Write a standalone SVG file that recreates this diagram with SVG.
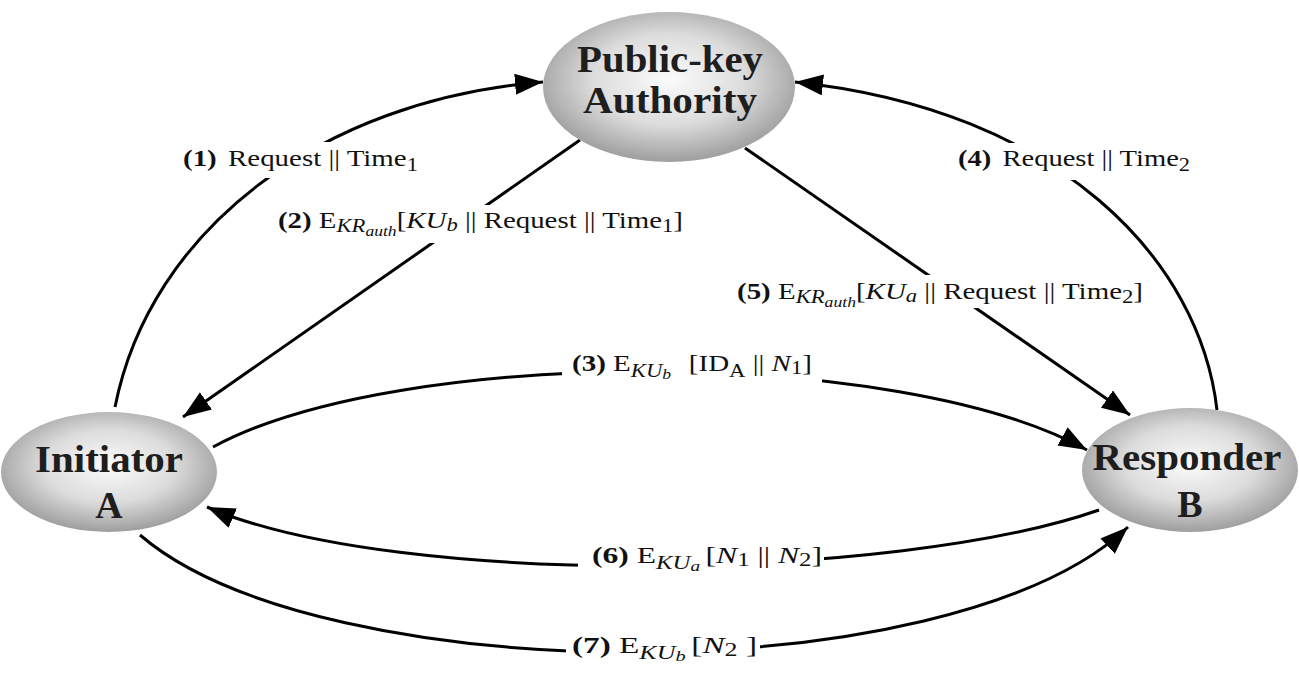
<svg xmlns="http://www.w3.org/2000/svg" width="1299" height="682" viewBox="0 0 1299 682">
<defs>
<style>
.node-text{font-family:"Liberation Serif","Times New Roman",serif;font-weight:bold;font-size:38px;fill:#1e1e1e;}
.lbl{font-family:"Liberation Serif","Times New Roman",serif;font-size:23px;fill:#111;}
.b{font-weight:bold;}
.i{font-style:italic;}
.s{font-size:18px;}
.ss{font-size:14px;}
.conn{fill:none;stroke:#000;stroke-width:3;marker-end:url(#arr);}
</style>
<radialGradient id="g" cx="50%" cy="45%" r="55%">
<stop offset="0" stop-color="#fbfbfb"/>
<stop offset="0.55" stop-color="#dcdcdc"/>
<stop offset="1" stop-color="#9e9e9e"/>
</radialGradient>
<marker id="arr" markerUnits="userSpaceOnUse" markerWidth="32" markerHeight="22" refX="28" refY="10.5" orient="auto">
<path d="M0,0 L28,10.5 L0,21 z" fill="#000"/>
</marker>
<mask id="gaps" maskUnits="userSpaceOnUse" x="0" y="0" width="1299" height="682">
<rect x="0" y="0" width="1299" height="682" fill="#fff"/>
<rect x="175" y="142" width="250" height="36" fill="#000"/>
<rect x="272" y="205" width="418" height="38" fill="#000"/>
<rect x="950" y="143" width="246" height="37" fill="#000"/>
<rect x="730" y="275" width="420" height="33" fill="#000"/>
<rect x="562" y="355" width="260" height="37" fill="#000"/>
<rect x="578" y="545" width="246" height="35" fill="#000"/>
<rect x="566" y="638" width="194" height="34" fill="#000"/>
</mask>
</defs>
<rect width="1299" height="682" fill="#fff"/>

<g id="connectors" mask="url(#gaps)">
<path id="c1" class="conn" d="M115,407 C150,230 320,100 543,82"/>
<path id="c2" class="conn" d="M580,140 L183,417"/>
<path id="c3" class="conn" d="M213,447 C400,346 900,346 1087,450"/>
<path id="c4" class="conn" d="M1217,410 C1200,260 1060,110 795,82"/>
<path id="c5" class="conn" d="M745,148 L1130,415"/>
<path id="c6" class="conn" d="M1099,510 C900,580 400,590 207,507"/>
<path id="c7" class="conn" d="M140,535 C320,690 950,695 1128,527"/>
</g>

<g id="labels">
<text class="lbl" x="183" y="166" textLength="235" lengthAdjust="spacingAndGlyphs"><tspan class="b">(1)</tspan><tspan dx="9">Request || Time</tspan><tspan class="s" dy="5">1</tspan></text>
<text class="lbl" x="278" y="228" textLength="405" lengthAdjust="spacingAndGlyphs"><tspan class="b">(2)</tspan> E<tspan class="i s" dy="4">KR</tspan><tspan class="i ss" dy="4">auth</tspan><tspan dy="-8">[</tspan><tspan class="i">KU</tspan><tspan class="i s" dy="3">b</tspan><tspan dy="-3"> || Request || Time</tspan><tspan class="s" dy="4">1</tspan><tspan dy="-4">]</tspan></text>
<text class="lbl" x="572" y="371" textLength="240" lengthAdjust="spacingAndGlyphs"><tspan class="b">(3)</tspan> E<tspan class="i s" dy="6">KU</tspan><tspan class="i ss" dy="2">b</tspan><tspan dx="14" dy="-8">[ID</tspan><tspan class="s" dy="6">A</tspan><tspan dy="-6"> || </tspan><tspan class="i">N</tspan><tspan class="s" dy="3">1</tspan><tspan dy="-3">]</tspan></text>
<text class="lbl" x="958" y="166" textLength="232" lengthAdjust="spacingAndGlyphs"><tspan class="b">(4)</tspan><tspan dx="9">Request || Time</tspan><tspan class="s" dy="5">2</tspan></text>
<text class="lbl" x="737" y="299" textLength="406" lengthAdjust="spacingAndGlyphs"><tspan class="b">(5)</tspan> E<tspan class="i s" dy="4">KR</tspan><tspan class="i ss" dy="4">auth</tspan><tspan dy="-8">[</tspan><tspan class="i">KU</tspan><tspan class="i s" dy="3">a</tspan><tspan dy="-3"> || Request || Time</tspan><tspan class="s" dy="4">2</tspan><tspan dy="-4">]</tspan></text>
<text class="lbl" x="592" y="563" textLength="230" lengthAdjust="spacingAndGlyphs"><tspan class="b">(6)</tspan> E<tspan class="i s" dy="6">KU</tspan><tspan class="i ss" dy="2">a</tspan><tspan dx="4" dy="-8">[</tspan><tspan class="i">N</tspan><tspan class="s" dy="3">1</tspan><tspan dy="-3"> || </tspan><tspan class="i">N</tspan><tspan class="s" dy="3">2</tspan><tspan dy="-3">]</tspan></text>
<text class="lbl" x="572" y="653" textLength="185" lengthAdjust="spacingAndGlyphs"><tspan class="b">(7)</tspan> E<tspan class="i s" dy="6">KU</tspan><tspan class="i ss" dy="2">b</tspan><tspan dx="4" dy="-8">[</tspan><tspan class="i">N</tspan><tspan class="s" dy="3">2</tspan><tspan dy="-3"> ]</tspan></text>
</g>

<g id="authority">
<ellipse cx="669" cy="87" rx="126" ry="75" fill="url(#g)"/>
<text class="node-text" x="670" y="72" text-anchor="middle" textLength="186" lengthAdjust="spacingAndGlyphs">Public-key</text>
<text class="node-text" x="670" y="113" text-anchor="middle" textLength="174" lengthAdjust="spacingAndGlyphs">Authority</text>
</g>

<g id="initiator">
<ellipse cx="109" cy="472" rx="108" ry="60" fill="url(#g)"/>
<text class="node-text" x="109" y="472" text-anchor="middle" textLength="148" lengthAdjust="spacingAndGlyphs">Initiator</text>
<text class="node-text" x="109" y="518" text-anchor="middle">A</text>
</g>

<g id="responder">
<ellipse cx="1190" cy="470" rx="108" ry="62" fill="url(#g)"/>
<text class="node-text" x="1187" y="470" text-anchor="middle" textLength="189" lengthAdjust="spacingAndGlyphs">Responder</text>
<text class="node-text" x="1190" y="517" text-anchor="middle">B</text>
</g>
</svg>
